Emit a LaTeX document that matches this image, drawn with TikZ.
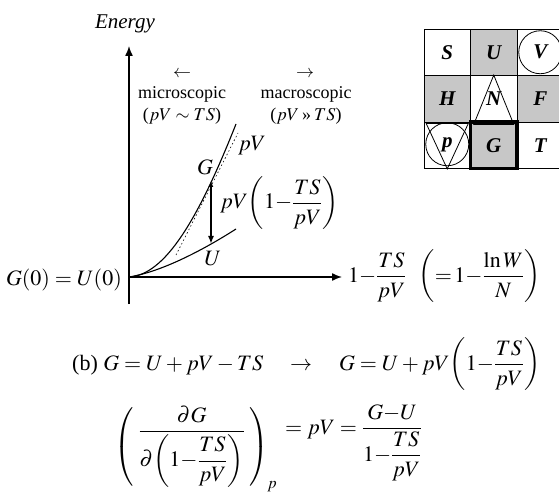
\documentclass[tikz,border=0pt]{standalone}
\usepackage{mathptmx}
\usepackage[no-math]{fontspec}
\setmainfont{Liberation Serif}
\usetikzlibrary{arrows.meta}

\begin{document}
\begin{tikzpicture}[
  x=1pt, y=-1pt,
  eq/.style={inner sep=0pt, font=\fontsize{22}{26}\selectfont},
  note/.style={inner sep=0pt, font=\fontsize{18}{21}\selectfont},
  cell/.style={draw, line width=0.8pt, minimum width=46.5pt, minimum height=46.5pt, inner sep=0pt, font=\fontsize{21}{25}\selectfont\itshape\bfseries},
  shaded/.style={cell, fill=black!22},
  axis/.style={line width=1.4pt, -{Latex[length=10pt,width=8pt]}},
  curve/.style={line width=1.1pt}
]
  \useasboundingbox (0,0) rectangle (559,494);

  % axes
  \coordinate (O)    at (129,277);
  \coordinate (ybot) at (129,304);
  \coordinate (ytop) at (129,46);
  \coordinate (xend) at (342,277);
  \draw[axis] (ybot) -- (ytop);
  \draw[axis] (O) -- (xend);
  \node[inner sep=0pt, font=\fontsize{21}{25}\selectfont\itshape] (energy) at (125,24) {Energy};

  % curves
  \coordinate (Gtop) at (236,124);
  \coordinate (Utop) at (236,229);
  \coordinate (Gpt)  at (211,181);
  \coordinate (Upt)  at (211,244);
  \draw[curve] (O) .. controls (165,275) and (198,220) .. (Gtop);
  \draw[curve] (O) .. controls (160,272) and (200,252) .. (Utop);
  \coordinate (pVa) at (176,255);
  \coordinate (pVb) at (238,133);
  \draw[line width=0.6pt, dash pattern=on 1.5pt off 2.5pt] (pVa) -- (pVb);
  \draw[line width=1.6pt, {Latex[length=6pt,width=5pt]}-{Latex[length=8pt,width=6pt]}] (Gpt) -- (Upt);

  % labels on the plot
  \node[eq] (Glab)  at (205,167) {$G$};
  \node[eq] (Ulab)  at (213,259) {$U$};
  \node[eq] (pVlab) at (252,146) {$pV$};
  \node[eq, anchor=base west] (gap) at (220,209) {$pV\!\left(1{-}\displaystyle\frac{TS}{pV}\right)$};
  \node[eq, anchor=base east] (G0) at (122,285) {$G(0)=U(0)$};
  \node[eq, anchor=base west] (xlab) at (348,282) {$1{-}\displaystyle\frac{TS}{pV}\;\;\left({=}\,1{-}\displaystyle\frac{\ln W}{N}\right)$};

  \node[note] (larr)  at (182,74) {$\leftarrow$};
  \node[note] (micro) at (182,94) {microscopic};
  \node[note] (microc) at (182,116) {($pV\sim TS$)};
  \node[note] (rarr)  at (305,74) {$\rightarrow$};
  \node[note] (macro) at (306,94) {macroscopic};
  \node[note] (macroc) at (306,116) {($pV$\,»\,$TS$)};

  % thermodynamic square
  \node[cell]   (S) at (447.25,52.25)  {S};
  \node[shaded] (U) at (493.75,52.25)  {U};
  \node[cell]   (V) at (540.25,52.25)  {V};
  \node[shaded] (H) at (447.25,98.75)  {H};
  \node[cell]   (N) at (493.75,98.75)  {\raisebox{-6pt}{N}};
  \node[shaded] (F) at (540.25,98.75)  {F};
  \node[cell]   (p) at (447.25,145.25) {p};
  \node[shaded, line width=3.5pt] (G) at (493.75,145.25) {G};
  \node[cell]   (T) at (540.25,145.25) {T};
  \draw[line width=0.8pt] (V.center) circle (21.5);
  \draw[line width=0.8pt] (N.north) -- ([xshift=-20pt, yshift=-2pt]N.south) -- ([xshift=20pt, yshift=-2pt]N.south) -- cycle;
  \draw[line width=0.8pt] ([yshift=1pt]p.center) circle (21.5);
  \draw[line width=0.8pt] ([xshift=-21pt, yshift=-2pt]p.north) -- ([xshift=21pt, yshift=-2pt]p.north) -- (p.south) -- cycle;

  % equations
  \node[eq, anchor=base west] (eqb) at (72,370)
    {(b) $G=U+pV-TS \quad\rightarrow\quad G=U+pV\!\left(1{-}\displaystyle\frac{TS}{pV}\right)$};
  \node[eq, anchor=west] (deriv) at (114,449)
    {$\left(\;\vcenter{\hbox{$\displaystyle\frac{\partial G}{\partial\!\left(1{-}\displaystyle\frac{TS}{pV}\right)}$}}\;\right)_{\!p}$};
  \node[eq, anchor=base west] (eqr) at (285,434)
    {$=pV=\displaystyle\frac{G{-}U}{1{-}\displaystyle\frac{TS}{pV}}$};
\end{tikzpicture}
\end{document}
